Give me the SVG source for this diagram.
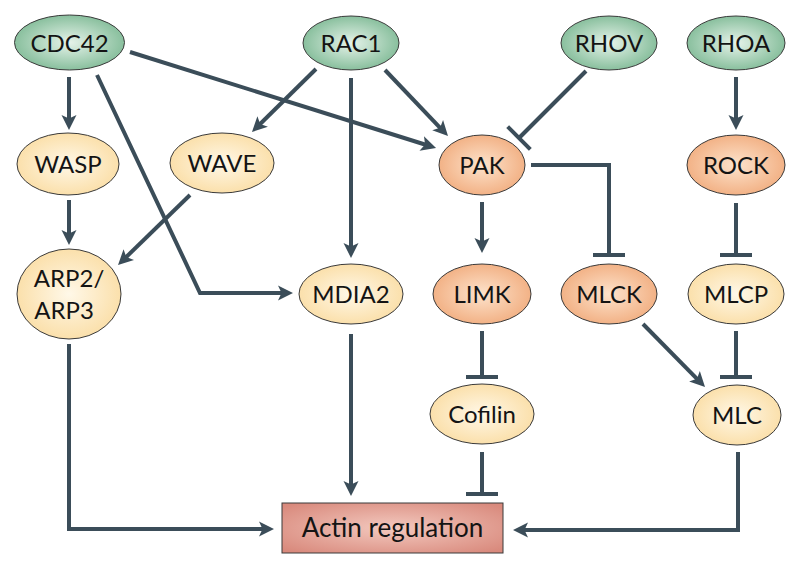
<svg xmlns="http://www.w3.org/2000/svg" width="800" height="569" viewBox="0 0 800 569">
<defs>
<radialGradient id="gGreen" cx="50%" cy="50%" r="60%">
<stop offset="0" stop-color="#e6f3ea"/><stop offset="1" stop-color="#76b58e"/>
</radialGradient>
<radialGradient id="gYellow" cx="50%" cy="50%" r="60%">
<stop offset="0" stop-color="#fff8e8"/><stop offset="1" stop-color="#fadb9f"/>
</radialGradient>
<radialGradient id="gOrange" cx="50%" cy="50%" r="60%">
<stop offset="0" stop-color="#fde3cc"/><stop offset="1" stop-color="#f0a878"/>
</radialGradient>
<radialGradient id="gRed" cx="50%" cy="50%" r="65%">
<stop offset="0" stop-color="#f3c9bf"/><stop offset="1" stop-color="#d98a7d"/>
</radialGradient>
<marker id="arr" viewBox="-6 -8 17 16" refX="0" refY="0" markerWidth="17" markerHeight="16" markerUnits="userSpaceOnUse" orient="auto">
<path d="M10,0 L-5,-7.5 L-1.5,0 L-5,7.5 Z" fill="#3b4d59"/>
</marker>
<marker id="bar" viewBox="-3 -17 6 34" refX="0" refY="0" markerWidth="6" markerHeight="34" markerUnits="userSpaceOnUse" orient="auto">
<line x1="0" y1="-16" x2="0" y2="16" stroke="#3b4d59" stroke-width="4"/>
</marker>
</defs>
<style>
.c{fill:none;stroke:#3b4d59;stroke-width:4}
.a{marker-end:url(#arr)}
.i{marker-end:url(#bar)}
.n{stroke:#3a3a3a;stroke-width:1}
.gr{fill:url(#gGreen)}
.ye{fill:url(#gYellow)}
.or{fill:url(#gOrange)}
.rd{fill:url(#gRed)}
text{font-family:Lato,"Open Sans","Liberation Sans",sans-serif;font-size:24px;font-weight:400;fill:#141414;text-anchor:middle}
</style>
<rect width="800" height="569" fill="#ffffff"/>
<g id="connectors">
<path class="c a" d="M69,77 V120"/>
<path class="c a" d="M69,200 V235"/>
<path class="c a" d="M97,75 L200,293 H283"/>
<path class="c a" d="M130,52 L426.5,145"/>
<path class="c a" d="M316,69 L259.1,125"/>
<path class="c a" d="M351,78 V248"/>
<path class="c a" d="M385,70 L441.1,128.8"/>
<path class="c a" d="M190,195 L125.2,258"/>
<path class="c a" d="M482,202 V243"/>
<path class="c a" d="M736,77 V120"/>
<path class="c a" d="M643,324 L698,379.9"/>
<path class="c a" d="M351,334 V486"/>
<path class="c a" d="M69,344 V529 H264"/>
<path class="c a" d="M738,452 V530 H523"/>
<path class="c i" d="M586,71 L519,138"/>
<path class="c i" d="M531,165 H609 V255"/>
<path class="c i" d="M736,203 V255"/>
<path class="c i" d="M482,331 V377"/>
<path class="c i" d="M736,331 V377"/>
<path class="c i" d="M482,452 V494"/>
</g>
<g id="CDC42"><ellipse class="n gr" cx="69.5" cy="42.5" rx="55" ry="27.5"/><text x="69.5" y="51.5">CDC42</text></g>
<g id="RAC1"><ellipse class="n gr" cx="351" cy="43" rx="48" ry="27"/><text x="351" y="52">RAC1</text></g>
<g id="RHOV"><ellipse class="n gr" cx="609" cy="43" rx="48" ry="27"/><text x="609" y="52">RHOV</text></g>
<g id="RHOA"><ellipse class="n gr" cx="736" cy="43" rx="49" ry="27"/><text x="736" y="52">RHOA</text></g>
<g id="WASP"><ellipse class="n ye" cx="68" cy="164" rx="51" ry="31"/><text x="68" y="173">WASP</text></g>
<g id="WAVE"><ellipse class="n ye" cx="222" cy="163" rx="52" ry="30"/><text x="222" y="172">WAVE</text></g>
<g id="PAK"><ellipse class="n or" cx="482" cy="165" rx="43" ry="30"/><text x="482" y="174">PAK</text></g>
<g id="ROCK"><ellipse class="n or" cx="736" cy="165" rx="49" ry="30"/><text x="736" y="174">ROCK</text></g>
<g id="ARP2_ARP3"><ellipse class="n ye" cx="69" cy="294" rx="52" ry="45"/><text x="69" y="287">ARP2/</text><text x="64" y="319">ARP3</text></g>
<g id="MDIA2"><ellipse class="n ye" cx="351" cy="294" rx="52" ry="30"/><text x="351" y="303">MDIA2</text></g>
<g id="LIMK"><ellipse class="n or" cx="482" cy="294" rx="49" ry="30"/><text x="482" y="303">LIMK</text></g>
<g id="MLCK"><ellipse class="n or" cx="609" cy="294" rx="48" ry="30"/><text x="609" y="303">MLCK</text></g>
<g id="MLCP"><ellipse class="n ye" cx="736" cy="294" rx="48" ry="30"/><text x="736" y="303">MLCP</text></g>
<g id="Cofilin"><ellipse class="n ye" cx="482" cy="414" rx="52" ry="30"/><text x="482" y="423">Cofilin</text></g>
<g id="MLC"><ellipse class="n ye" cx="737" cy="415" rx="44" ry="30"/><text x="737" y="424">MLC</text></g>
<g id="Actin_regulation"><rect class="n rd" x="282" y="503" width="221" height="50"/><text x="392.5" y="537" style="font-size:26px">Actin regulation</text></g>
</svg>
